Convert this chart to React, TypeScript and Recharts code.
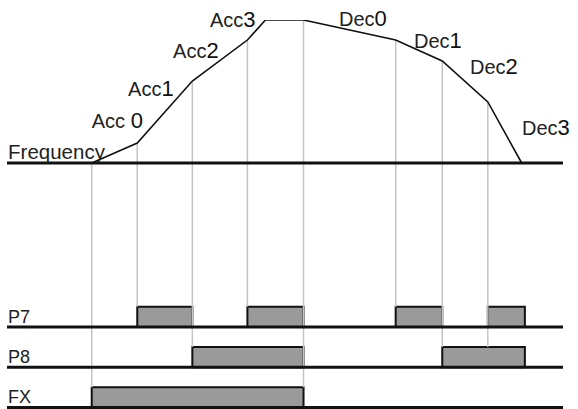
import React from 'react';
import {
  ComposedChart,
  Line,
  XAxis,
  YAxis,
  ReferenceLine,
  ReferenceArea,
  ReferenceDot,
} from 'recharts';

// Time (arbitrary units) of each vertex of the frequency profile
const profileTimes = [0, 4.3, 9.5, 14.7, 16.4, 20, 28.7, 33.1, 37.4, 40.6];
// Output frequency (Hz) at each vertex
const profileFreq = [0, 8.4, 34.4, 51.6, 60, 60, 51.6, 42.8, 25.6, 0];

// Multi-function input pulses [start, end]
const p7Pulses: [number, number][] = [
  [4.3, 9.5],
  [14.7, 20],
  [28.7, 33.1],
  [37.4, 40.9],
];
const p8Pulses: [number, number][] = [
  [9.5, 20],
  [33.1, 40.9],
];
const fxPulses: [number, number][] = [[0, 20]];

// Signal rows: name, low level on signal axis
const rowNames = ['P7', 'P8', 'FX'];
const rowLevels = [4, 2, 0];

// Guide lines: time, row index they reach down to
const guideTimes = [0, 4.3, 9.5, 14.7, 20, 28.7, 33.1, 37.4];
const guideRows = [2, 0, 1, 0, 2, 0, 1, 1];

// Curve labels
const curveLabels = ['Acc ', 'Acc', 'Acc', 'Acc', 'Dec', 'Dec', 'Dec', 'Dec'];
const curveLabelDigits = ['0', '1', '2', '3', '0', '1', '2', '3'];
const curveLabelT = [0.0, 3.43, 7.68, 11.17, 23.35, 30.43, 35.72, 40.63];
const curveLabelF = [14.7, 28.1, 44.1, 57.1, 57.5, 48.3, 37.3, 11.7];

const X_DOMAIN: [number, number] = [-8, 44.5];
const F_DOMAIN: [number, number] = [-102.6, 60];
const S_DOMAIN: [number, number] = [0, 19.23];

const freqToSig = (f: number) =>
  S_DOMAIN[0] +
  ((f - F_DOMAIN[0]) / (F_DOMAIN[1] - F_DOMAIN[0])) * (S_DOMAIN[1] - S_DOMAIN[0]);

const profileData = profileTimes.map((t, i) => ({ t, f: profileFreq[i] }));

const freqAt = (t: number) => {
  const i = profileTimes.indexOf(t);
  return i >= 0 ? profileFreq[i] : 0;
};

const FONT = '"Liberation Sans", Arial, sans-serif';
const TEXT_COLOR = '#222';

const makeText = (label: string, digit: string, size: number, digitSize: number) => (props: any) => (
  <text
    x={props.cx}
    y={props.cy}
    fontFamily={FONT}
    fontSize={size}
    fill={TEXT_COLOR}
    textAnchor="start"
  >
    {label}
    {digit ? <tspan fontSize={digitSize} fill="#111">{digit}</tspan> : null}
  </text>
);

export default function App() {
  const pulseRows = [p7Pulses, p8Pulses, fxPulses];
  return (
    <div style={{ position: 'absolute', left: 0, top: 0, background: '#fff' }}>
      <ComposedChart
        width={578}
        height={409}
        data={profileData}
        margin={{ top: 20, right: 15, bottom: 1.5, left: 7 }}
      >
        <XAxis dataKey="t" type="number" domain={X_DOMAIN} hide allowDataOverflow />
        <YAxis yAxisId="f" type="number" domain={F_DOMAIN} hide allowDataOverflow />
        <YAxis yAxisId="s" type="number" domain={S_DOMAIN} hide allowDataOverflow />

        {guideTimes.map((t, i) => (
          <ReferenceLine
            key={'g' + i}
            yAxisId="s"
            segment={[
              { x: t, y: freqToSig(freqAt(t)) },
              { x: t, y: rowLevels[guideRows[i]] + 1 },
            ]}
            stroke="#c4c4c4"
            strokeWidth={1.5}
            ifOverflow="visible"
          />
        ))}

        {pulseRows.map((pulses, r) =>
          pulses.map(([a, b], j) => (
            <ReferenceArea
              key={'p' + r + '-' + j}
              yAxisId="s"
              x1={a}
              x2={b}
              y1={rowLevels[r]}
              y2={rowLevels[r] + 1}
              fill="#9a9a9a"
              fillOpacity={1}
              stroke="#111"
              strokeWidth={2}
              ifOverflow="visible"
            />
          ))
        )}

        <ReferenceLine yAxisId="f" y={0} stroke="#111" strokeWidth={3} />
        {rowLevels.map((lv, r) => (
          <ReferenceLine key={'b' + r} yAxisId="s" y={lv} stroke="#111" strokeWidth={3} />
        ))}

        <Line
          yAxisId="f"
          dataKey="f"
          type="linear"
          stroke="#111"
          strokeWidth={1.6}
          dot={false}
          isAnimationActive={false}
        />

        <ReferenceDot
          yAxisId="f"
          x={-7.9}
          y={1.7}
          r={0}
          ifOverflow="visible"
          shape={makeText('Frequency', '', 20.5, 20.5)}
        />
        {curveLabels.map((lab, i) => (
          <ReferenceDot
            key={'c' + i}
            yAxisId="f"
            x={curveLabelT[i]}
            y={curveLabelF[i]}
            r={0}
            ifOverflow="visible"
            shape={makeText(lab, curveLabelDigits[i], 20, 22)}
          />
        ))}
        {rowNames.map((n, r) => (
          <ReferenceDot
            key={'n' + r}
            yAxisId="s"
            x={-7.9}
            y={rowLevels[r] + 0.2}
            r={0}
            ifOverflow="visible"
            shape={makeText(n, '', 18, 18)}
          />
        ))}
      </ComposedChart>
    </div>
  );
}
